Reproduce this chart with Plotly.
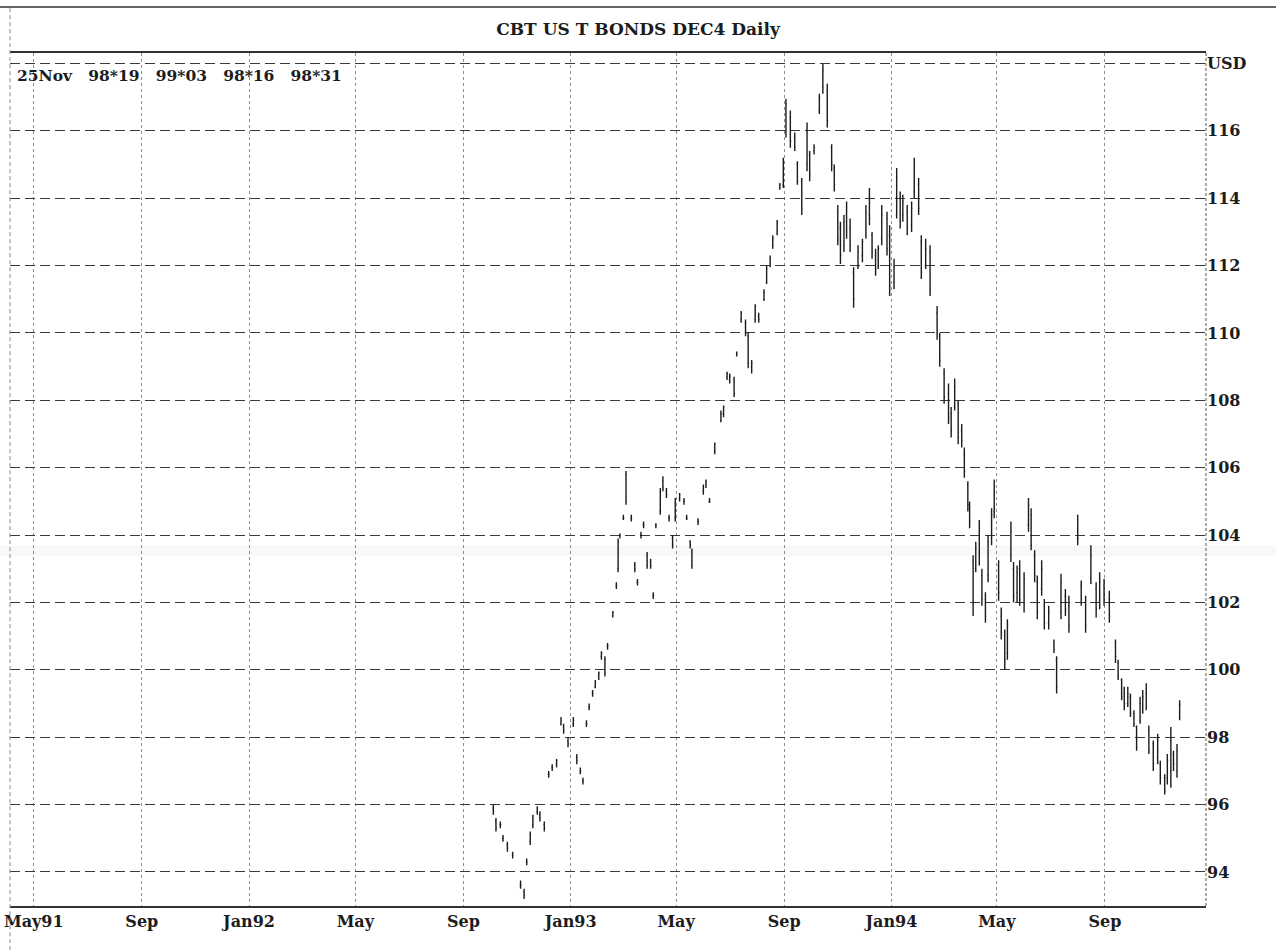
import plotly.graph_objects as go

# Daily bars of the CBT US T-Bond December 1994 contract (price in points)
dates = [
    "1992-10-05", "1992-10-08", "1992-10-13", "1992-10-16", "1992-10-21", "1992-10-27",
    "1992-11-05", "1992-11-09", "1992-11-12", "1992-11-16", "1992-11-19", "1992-11-24",
    "1992-11-27", "1992-12-02", "1992-12-07", "1992-12-11", "1992-12-16", "1992-12-21",
    "1992-12-24", "1992-12-29", "1993-01-04", "1993-01-08", "1993-01-12", "1993-01-15",
    "1993-01-19", "1993-01-22", "1993-01-26", "1993-01-29", "1993-02-02", "1993-02-05",
    "1993-02-09", "1993-02-12", "1993-02-18", "1993-02-22", "1993-02-24", "1993-02-26",
    "1993-03-02", "1993-03-05", "1993-03-11", "1993-03-15", "1993-03-18", "1993-03-22",
    "1993-03-25", "1993-03-29", "1993-04-02", "1993-04-05", "1993-04-08", "1993-04-13",
    "1993-04-16", "1993-04-20", "1993-04-23", "1993-04-27", "1993-04-30", "1993-05-05",
    "1993-05-10", "1993-05-13", "1993-05-17", "1993-05-19", "1993-05-26", "1993-06-01",
    "1993-06-04", "1993-06-08", "1993-06-14", "1993-06-21", "1993-06-24", "1993-06-28",
    "1993-07-01", "1993-07-06", "1993-07-09", "1993-07-14", "1993-07-19", "1993-07-22",
    "1993-07-26", "1993-07-30", "1993-08-03", "1993-08-09", "1993-08-12", "1993-08-16",
    "1993-08-19", "1993-08-24", "1993-08-27", "1993-08-31", "1993-09-03", "1993-09-08",
    "1993-09-13", "1993-09-16", "1993-09-21", "1993-09-27", "1993-09-30", "1993-10-05",
    "1993-10-11", "1993-10-15", "1993-10-20", "1993-10-25", "1993-10-28", "1993-11-01",
    "1993-11-04", "1993-11-08", "1993-11-11", "1993-11-15", "1993-11-19", "1993-11-24",
    "1993-11-29", "1993-12-03", "1993-12-07", "1993-12-10", "1993-12-14", "1993-12-17",
    "1993-12-21", "1993-12-27", "1993-12-30", "1994-01-04", "1994-01-07", "1994-01-11",
    "1994-01-14", "1994-01-19", "1994-01-24", "1994-01-27", "1994-02-01", "1994-02-04",
    "1994-02-09", "1994-02-14", "1994-02-22", "1994-02-25", "1994-03-02", "1994-03-07",
    "1994-03-10", "1994-03-14", "1994-03-18", "1994-03-22", "1994-03-25", "1994-03-29",
    "1994-03-31", "1994-04-04", "1994-04-07", "1994-04-11", "1994-04-14", "1994-04-18",
    "1994-04-21", "1994-04-25", "1994-04-28", "1994-05-03", "1994-05-06", "1994-05-10",
    "1994-05-13", "1994-05-17", "1994-05-20", "1994-05-24", "1994-05-27", "1994-06-01",
    "1994-06-06", "1994-06-09", "1994-06-13", "1994-06-16", "1994-06-21", "1994-06-24",
    "1994-06-29", "1994-07-05", "1994-07-08", "1994-07-13", "1994-07-18", "1994-07-22",
    "1994-08-01", "1994-08-05", "1994-08-10", "1994-08-16", "1994-08-22", "1994-08-26",
    "1994-08-31", "1994-09-06", "1994-09-13", "1994-09-16", "1994-09-20", "1994-09-23",
    "1994-09-27", "1994-09-30", "1994-10-04", "1994-10-07", "1994-10-11", "1994-10-14",
    "1994-10-18", "1994-10-21", "1994-10-26", "1994-10-31", "1994-11-03", "1994-11-08",
    "1994-11-11", "1994-11-15", "1994-11-18", "1994-11-22", "1994-11-25",
]

opens = [
    95.9, 95.5, 95.4, 95.0, 94.8, 94.5, 93.6, 93.4, 94.3, 94.9, 95.4, 95.8,
    95.7, 95.4, 96.9, 97.1, 97.2, 98.4, 98.3, 97.9, 98.4, 97.4, 97.0, 96.7,
    98.4, 98.9, 99.3, 99.5, 99.8, 100.4, 100.3, 100.7, 101.6, 102.5, 103.0, 104.0,
    104.5, 105.8, 104.5, 103.1, 102.6, 104.0, 104.3, 103.4, 103.2, 102.2, 104.3, 104.7,
    105.6, 105.3, 104.5, 103.9, 104.5, 105.1, 105.0, 104.5, 103.8, 103.5, 104.4, 105.3,
    105.5, 105.0, 106.5, 107.4, 107.6, 108.7, 108.6, 108.6, 109.35, 110.4, 110.3, 109.9,
    109.0, 110.4, 110.5, 111.0, 111.5, 112.0, 112.6, 113.0, 114.3, 114.4, 116.0, 116.4,
    115.8, 115.0, 114.5, 115.0, 115.3, 115.4, 116.6, 117.3, 117.2, 115.5, 114.9, 113.6,
    113.1, 112.6, 113.5, 113.1, 111.8, 112.0, 112.3, 112.9, 113.5, 112.9, 112.3, 112.0,
    112.8, 113.4, 112.9, 111.5, 113.5, 114.0, 113.5, 113.6, 113.2, 114.2, 114.4, 112.7,
    112.0, 112.4, 110.6, 109.9, 108.8, 108.2, 107.6, 107.8, 107.9, 107.1, 106.4, 105.5,
    104.8, 103.2, 103.0, 103.5, 102.8, 102.1, 102.8, 103.9, 104.7, 103.1, 101.6, 101.0,
    100.5, 103.4, 103.0, 102.3, 103.0, 102.0, 104.3, 104.6, 103.4, 102.6, 102.4, 101.9,
    101.4, 100.8, 100.3, 101.7, 102.2, 101.9, 103.9, 102.5, 102.0, 102.7, 102.4, 102.0,
    102.5, 102.1, 100.8, 100.2, 99.7, 99.3, 99.0, 99.2, 98.7, 98.3, 98.5, 98.9,
    99.3, 98.2, 97.8, 97.4, 97.2, 96.8, 96.8, 97.0, 97.5, 97.0, 98.59375,
]

highs = [
    96.0, 95.6, 95.5, 95.1, 94.9, 94.6, 93.75, 93.5, 94.4, 95.2, 95.7, 95.95,
    95.8, 95.5, 97.0, 97.2, 97.35, 98.6, 98.4, 98.0, 98.6, 97.5, 97.1, 96.8,
    98.5, 99.0, 99.4, 99.7, 99.95, 100.55, 100.4, 100.8, 101.75, 102.6, 103.9, 104.05,
    104.6, 105.9, 104.6, 103.2, 102.7, 104.1, 104.4, 103.5, 103.3, 102.3, 104.35, 105.4,
    105.75, 105.4, 104.6, 104.0, 105.1, 105.25, 105.1, 104.6, 103.85, 103.6, 104.5, 105.5,
    105.65, 105.1, 106.75, 107.7, 107.85, 108.85, 108.8, 108.7, 109.45, 110.65, 110.4, 110.0,
    109.2, 110.85, 110.6, 111.3, 112.0, 112.3, 112.9, 113.35, 114.45, 115.2, 116.95, 116.6,
    115.95, 115.1, 114.6, 116.25, 115.4, 115.6, 117.1, 118.0, 117.4, 115.6, 115.0, 113.8,
    113.3, 113.5, 113.9, 113.4, 111.95, 112.6, 112.8, 113.8, 114.3, 113.0, 112.5, 112.6,
    113.8, 113.6, 113.2, 112.2, 114.9, 114.2, 114.1, 113.8, 113.9, 115.2, 114.6, 112.9,
    112.8, 112.6, 110.8, 110.0, 108.95, 108.5, 107.8, 108.65, 108.0, 107.3, 106.6, 105.6,
    105.0, 103.4, 103.8, 104.45, 103.0, 102.3, 104.0, 104.8, 105.65, 103.25, 101.85, 101.2,
    101.5, 104.4, 103.2, 103.1, 103.25, 102.9, 105.1, 104.8, 103.55, 102.8, 103.25, 102.1,
    101.9, 100.9, 100.4, 102.85, 102.4, 102.2, 104.6, 102.65, 102.2, 103.7, 102.6, 102.9,
    102.7, 102.35, 100.9, 100.3, 99.75, 99.5, 99.5, 99.3, 98.8, 98.35, 99.2, 99.4,
    99.6, 98.35, 97.9, 98.1, 97.3, 96.9, 97.5, 98.3, 97.6, 97.8, 99.09375,
]

lows = [
    95.7, 95.2, 95.3, 94.9, 94.6, 94.4, 93.5, 93.2, 94.2, 94.8, 95.3, 95.7,
    95.5, 95.2, 96.8, 97.0, 97.1, 98.35, 98.1, 97.7, 98.3, 97.2, 96.9, 96.6,
    98.3, 98.8, 99.2, 99.45, 99.7, 100.3, 99.8, 100.6, 101.55, 102.4, 102.9, 103.9,
    104.45, 104.9, 104.4, 102.9, 102.5, 103.9, 104.2, 103.0, 103.0, 102.1, 104.2, 104.6,
    105.3, 105.1, 104.4, 103.6, 104.4, 105.0, 104.9, 104.45, 103.6, 103.0, 104.3, 105.2,
    105.4, 104.95, 106.4, 107.35, 107.5, 108.6, 108.5, 108.1, 109.3, 110.3, 109.9, 108.95,
    108.8, 110.3, 110.3, 110.95, 111.45, 111.95, 112.5, 112.9, 114.25, 114.3, 115.8, 115.5,
    115.4, 114.4, 113.5, 114.8, 114.5, 115.3, 116.5, 117.1, 116.1, 114.8, 114.2, 112.6,
    112.05, 112.4, 112.8, 112.4, 110.75, 111.9, 112.1, 112.8, 113.2, 112.2, 111.7, 111.9,
    112.6, 112.3, 111.1, 111.3, 113.4, 113.1, 113.3, 112.9, 113.0, 114.0, 113.5, 111.6,
    111.9, 111.1, 109.8, 109.0, 107.9, 107.3, 106.9, 107.7, 106.7, 106.6, 105.7, 104.7,
    104.2, 101.6, 102.9, 103.1, 101.9, 101.4, 102.6, 103.7, 104.5, 102.05, 100.9, 100.0,
    100.3, 103.2, 102.0, 102.0, 101.9, 101.7, 104.1, 103.55, 102.6, 101.5, 102.2, 101.2,
    101.2, 100.5, 99.3, 101.5, 101.6, 101.1, 103.7, 101.9, 101.1, 102.55, 101.55, 101.8,
    101.9, 101.4, 100.2, 99.7, 99.1, 98.8, 98.9, 98.6, 98.3, 97.6, 98.4, 98.7,
    98.8, 97.5, 97.0, 97.2, 96.6, 96.3, 96.6, 96.5, 97.0, 96.8, 98.5,
]

closes = [
    95.8, 95.3, 95.4, 95.0, 94.7, 94.5, 93.6, 93.3, 94.3, 95.1, 95.6, 95.9,
    95.6, 95.3, 96.9, 97.1, 97.3, 98.5, 98.2, 97.8, 98.5, 97.3, 97.0, 96.7,
    98.4, 98.9, 99.3, 99.6, 99.9, 100.5, 99.9, 100.7, 101.7, 102.5, 103.8, 104.0,
    104.5, 105.0, 104.5, 103.0, 102.6, 104.0, 104.3, 103.1, 103.1, 102.2, 104.3, 105.3,
    105.4, 105.2, 104.5, 103.7, 105.0, 105.2, 105.0, 104.5, 103.7, 103.1, 104.4, 105.4,
    105.6, 105.0, 106.7, 107.6, 107.8, 108.8, 108.7, 108.2, 109.4, 110.6, 110.0, 109.1,
    109.1, 110.8, 110.4, 111.2, 111.9, 112.2, 112.8, 113.3, 114.4, 115.1, 116.8, 115.7,
    115.5, 114.5, 113.7, 116.0, 114.7, 115.5, 117.0, 117.8, 116.3, 115.0, 114.4, 112.8,
    112.3, 113.3, 113.0, 112.6, 111.0, 112.4, 112.7, 113.6, 113.4, 112.4, 111.9, 112.5,
    113.5, 112.5, 111.4, 112.0, 114.6, 113.3, 113.9, 113.1, 113.7, 114.9, 113.7, 111.8,
    112.5, 111.3, 110.0, 109.2, 108.1, 107.5, 107.1, 108.4, 106.9, 106.8, 105.9, 104.9,
    104.4, 102.0, 103.6, 104.2, 102.1, 101.6, 103.8, 104.6, 104.8, 102.3, 101.1, 100.3,
    101.3, 104.1, 102.2, 102.9, 102.1, 102.7, 104.9, 103.7, 102.8, 101.7, 103.0, 101.4,
    101.7, 100.6, 99.5, 102.6, 101.8, 101.3, 103.9, 102.1, 101.3, 103.4, 101.8, 102.6,
    102.1, 101.6, 100.4, 99.8, 99.2, 99.0, 99.3, 98.7, 98.4, 97.7, 99.0, 99.2,
    98.9, 97.6, 97.2, 97.9, 96.8, 96.4, 97.3, 97.9, 97.2, 97.6, 98.96875,
]

# Axis ticks
month_ticks = [
    "1991-05-01", "1991-09-01", "1992-01-01", "1992-05-01", "1992-09-01", "1993-01-01",
    "1993-05-01", "1993-09-01", "1994-01-01", "1994-05-01", "1994-09-01",
]
month_labels = ["May91", "Sep", "Jan92", "May", "Sep", "Jan93", "May", "Sep", "Jan94", "May", "Sep"]
price_ticks = [94, 96, 98, 100, 102, 104, 106, 108, 110, 112, 114, 116, 118]
price_labels = ["94", "96", "98", "100", "102", "104", "106", "108", "110", "112", "114", "116", "USD"]

X_RANGE = ["1991-04-04", "1994-12-25"]
Y_RANGE = [92.99, 118.31]

SERIF = "DejaVu Serif"
INK = "#1c1c1c"


def to_32nds(v):
    whole = int(v)
    frac = int(round((v - whole) * 32))
    return f"{whole}*{frac:02d}"


def day_label(d):
    months = ["Jan", "Feb", "Mar", "Apr", "May", "Jun", "Jul", "Aug", "Sep", "Oct", "Nov", "Dec"]
    y, m, dd = d.split("-")
    return f"{int(dd)}{months[int(m) - 1]}"


sp = "\u00a0\u00a0\u00a0"
last_quote = sp.join([
    day_label(dates[-1]),
    to_32nds(opens[-1]),
    to_32nds(highs[-1]),
    to_32nds(lows[-1]),
    to_32nds(closes[-1]),
])

fig = go.Figure()

fig.add_trace(go.Ohlc(
    x=dates, open=opens, high=highs, low=lows, close=closes,
    increasing=dict(line=dict(color=INK, width=1.4)),
    decreasing=dict(line=dict(color=INK, width=1.4)),
    tickwidth=0.5,
    showlegend=False,
    hoverinfo="skip",
))


def yfrac(v):
    return (v - Y_RANGE[0]) / (Y_RANGE[1] - Y_RANGE[0])


shapes = [
    # faint scanner band across the 104 row
    dict(type="rect", xref="paper", yref="paper", x0=-0.0084, x1=1.0585,
         y0=yfrac(103.37), y1=yfrac(103.69), fillcolor="rgba(110,110,110,0.05)",
         line=dict(width=0), layer="below"),
    # outer frame top rule
    dict(type="line", xref="paper", yref="paper", x0=-0.0084, x1=1.0585,
         y0=1.054, y1=1.054, line=dict(color="#333333", width=1.5)),
    # left frame edge
    dict(type="line", xref="paper", yref="paper", x0=0, x1=0,
         y0=-0.06, y1=1.054, line=dict(color="#8a8a8a", width=1, dash="4px,3px")),
    # right price axis
    dict(type="line", xref="paper", yref="paper", x0=1, x1=1,
         y0=0, y1=1, line=dict(color="#555555", width=1, dash="3px,2px")),
]

fig.update_layout(
    width=1276, height=950,
    margin=dict(l=10, r=70, t=53, b=44, autoexpand=False),
    paper_bgcolor="white", plot_bgcolor="white",
    title=dict(
        text="CBT US T BONDS DEC4 Daily",
        x=0.5, xref="container", xanchor="center",
        y=1 - 29 / 950, yref="container", yanchor="middle",
        font=dict(family=SERIF, size=17, color=INK, weight="bold"),
    ),
    xaxis=dict(
        type="date", range=X_RANGE, automargin=False,
        tickvals=month_ticks, ticktext=month_labels,
        showgrid=True, gridcolor="#8c8c8c", gridwidth=1, griddash="3px,3px",
        showline=True, linecolor="#333333", linewidth=1.5, mirror=True,
        ticks="", zeroline=False,
        tickfont=dict(family=SERIF, size=16, color=INK, weight="bold"),
        rangeslider=dict(visible=False),
    ),
    yaxis=dict(
        side="right", range=Y_RANGE, automargin=False,
        tickvals=price_ticks, ticktext=price_labels,
        showgrid=True, gridcolor="#3a3a3a", gridwidth=1, griddash="10px,5px",
        showline=False, ticks="", zeroline=False,
        tickfont=dict(family=SERIF, size=16, color=INK, weight="bold"),
    ),
    shapes=shapes,
    annotations=[
        dict(
            text=last_quote, xref="paper", yref="paper",
            x=5 / 1196, y=(906 - 75) / 853, xanchor="left", yanchor="middle",
            showarrow=False,
            font=dict(family=SERIF, size=15.5, color=INK, weight="bold"),
        )
    ],
)

fig.write_html("out.html")
